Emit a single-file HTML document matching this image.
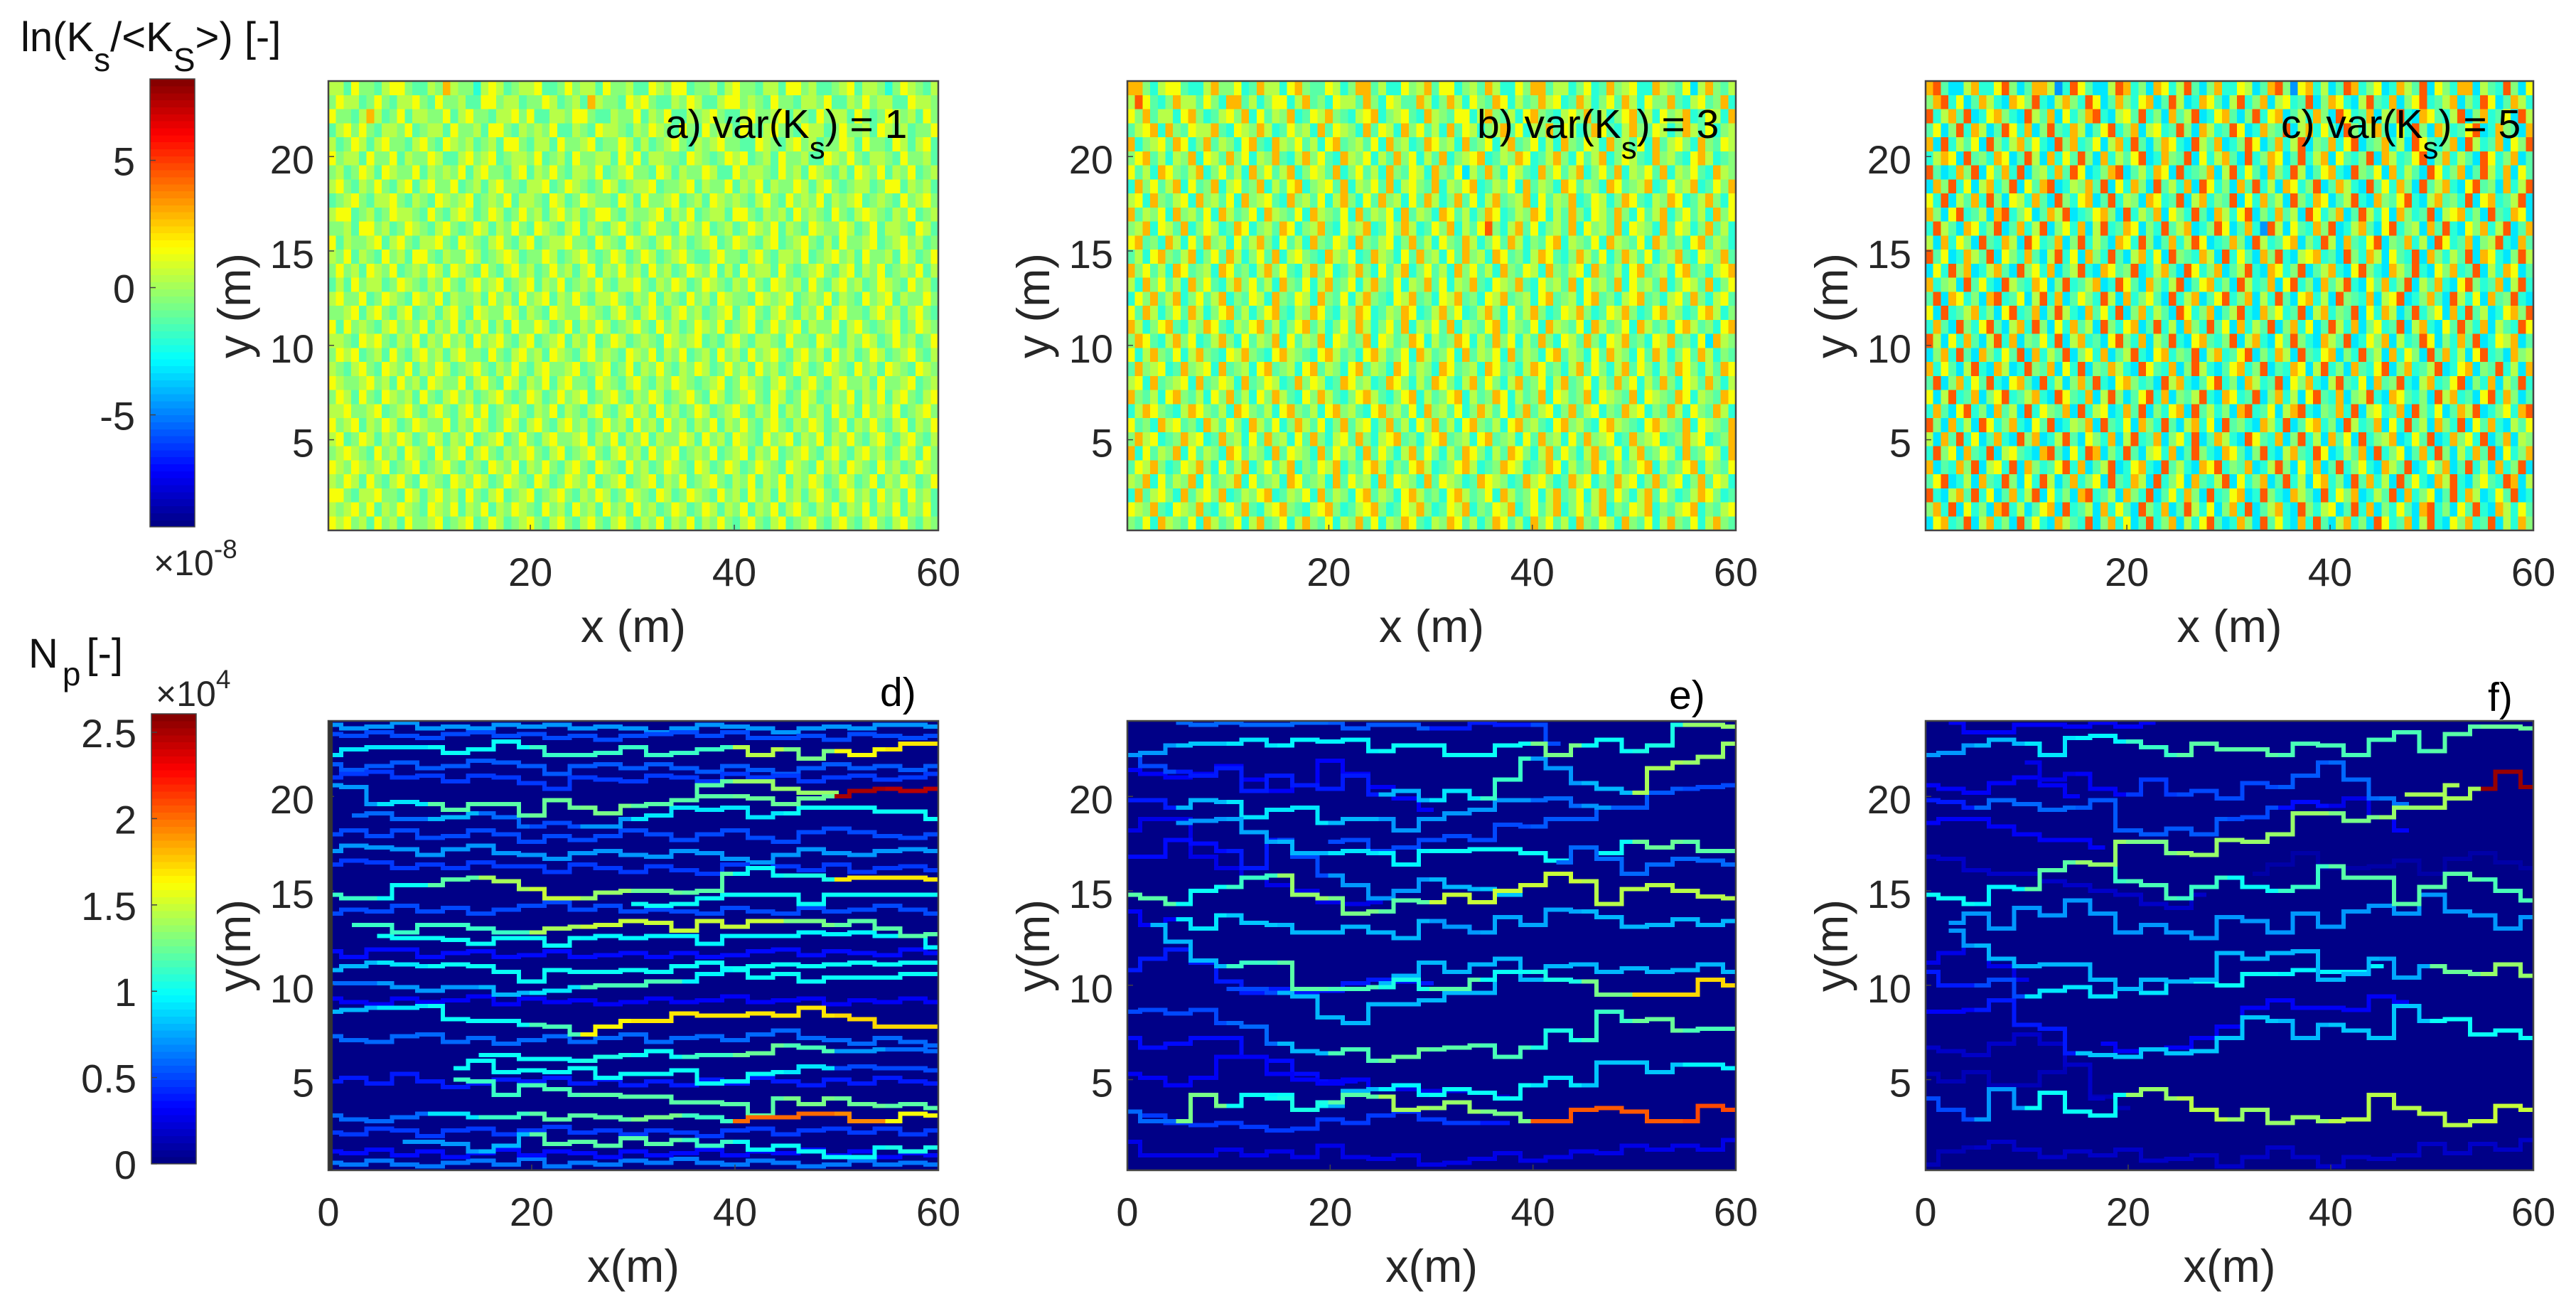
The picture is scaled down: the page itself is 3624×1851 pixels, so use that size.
<!DOCTYPE html>
<html lang="en"><head><meta charset="utf-8"><title>Ks fields and particle paths</title>
<style>html,body{margin:0;padding:0;background:#fff}svg{display:block}text{font-family:"Liberation Sans",Arial,sans-serif}</style></head>
<body>
<svg id="chart" xmlns="http://www.w3.org/2000/svg" width="3624" height="1851" viewBox="0 0 3624 1851">
<rect width="3624" height="1851" fill="#fff"/>
<g id="heat"></g>
<g id="axes"></g>
<text x="29" y="72" font-size="58" fill="#111">ln(K<tspan dy="28" font-size="46">s</tspan><tspan dy="-28">/&lt;K</tspan><tspan dy="28" font-size="46">S</tspan><tspan dy="-28">&gt;) [-]</tspan></text>
<text x="40" y="939" font-size="58" fill="#111">N<tspan dy="25" dx="6" font-size="46">p</tspan><tspan dy="-25" dx="8">[-]</tspan></text>
<text x="216" y="809" font-size="50" fill="#262626">×10<tspan dy="-24" font-size="37">-8</tspan></text>
<text x="219" y="993" font-size="50" fill="#262626">×10<tspan dy="-25" font-size="37">4</tspan></text>
<text x="936" y="194" font-size="57" fill="#000">a) var(K<tspan dy="29" font-size="44">s</tspan><tspan dy="-29">) = 1</tspan></text>
<text x="2078" y="194" font-size="57" fill="#000">b) var(K<tspan dy="29" font-size="44">s</tspan><tspan dy="-29">) = 3</tspan></text>
<text x="3209" y="194" font-size="57" fill="#000">c) var(K<tspan dy="29" font-size="44">s</tspan><tspan dy="-29">) = 5</tspan></text>
<text x="1238" y="993" font-size="57" fill="#000">d)</text>
<text x="2348" y="997" font-size="57" fill="#000">e)</text>
<text x="3500" y="1000" font-size="57" fill="#000">f)</text>
</svg>
<script>
const _ = null;
const xTicksTop = [20, 40, 60];
const xTicksBottom = [0, 20, 40, 60];
const yTicks = [5, 10, 15, 20];
const ksColorTicks = [-5, 0, 5];
const npColorTicks = [0, 0.5, 1, 1.5, 2, 2.5];
const ksRange = [-9.4, 8.2];
const npRange = [0, 2.607];
const levelValues = [-6.5, -4.5, -3.2, -2.2, -1.4, -0.4, 0.5, 1.5, 2.8, 4.4];
const pathXSamples = [0,2.5,5,7.5,10,12.5,15,17.5,20,22.5,25,27.5,30,32.5,35,37.5,40,42.5,45,47.5,50,52.5,55,57.5,60];

const fieldA = [
[6,6,4,7,5,5,4,6,7,7,5,4,4,6,5,8,6,5,5,3,6,7,6,4,5,6,6,7,4,4,5,7,5,6,6,4,7,5,5,6,4,4,7,6,5,7,7,4,5,5,6,4,6,7,5,5,4,6,6,4,7,7,5,6,4,4,5,6,7,4,6,6,5,3,5,7,6,5,4,6],
[5,7,6,6,4,5,7,5,4,6,6,7,5,4,7,5,5,6,4,4,7,7,5,6,6,4,5,5,7,6,4,5,6,4,8,6,5,5,4,7,6,7,5,4,4,6,5,7,6,4,4,6,7,7,5,6,5,4,7,5,5,4,6,6,5,7,4,4,6,5,7,5,6,6,4,4,7,6,6,5],
[7,5,5,4,6,8,6,4,5,7,4,6,6,5,5,7,4,6,7,5,5,4,6,6,7,5,7,4,4,6,6,5,7,7,5,4,4,6,5,5,7,4,6,5,7,4,4,6,5,6,7,5,4,4,6,7,5,5,6,7,4,6,5,4,7,5,6,6,4,7,5,4,5,7,6,5,6,4,7,5],
[4,6,7,5,7,5,4,6,6,5,7,4,5,6,6,4,7,5,5,6,4,7,7,5,4,6,5,6,5,7,4,4,6,5,4,7,6,6,5,4,6,5,7,6,5,4,7,5,4,7,5,6,6,4,7,5,4,6,7,5,5,4,7,6,6,4,5,7,5,5,6,4,7,6,5,6,4,5,5,7],
[6,4,5,7,6,4,6,7,5,5,4,6,7,5,4,7,6,5,6,4,5,6,4,7,7,5,4,6,6,4,7,5,5,6,7,4,5,5,7,6,4,6,4,5,6,7,5,4,6,5,6,7,5,5,4,4,7,6,5,4,6,7,5,6,4,5,5,7,6,4,7,5,5,4,7,6,4,6,7,4],
[7,5,6,6,4,7,5,5,7,4,6,5,5,7,6,4,4,6,7,5,6,7,4,5,6,6,5,7,4,5,6,4,7,5,5,6,6,4,7,5,7,4,6,6,5,5,4,7,6,5,4,5,7,6,7,4,5,6,4,7,5,5,6,4,4,7,6,5,7,5,4,6,6,5,4,7,5,5,6,4],
[5,6,4,5,7,6,4,7,6,5,5,7,4,6,5,6,5,7,4,6,7,5,5,4,6,7,4,6,5,7,5,4,6,6,5,7,4,5,6,7,5,5,4,7,6,4,6,5,5,7,6,4,4,7,5,6,6,5,4,7,5,6,4,7,6,5,4,6,4,7,6,5,7,4,6,5,7,4,5,6],
[6,7,5,4,6,5,7,5,4,6,7,4,6,7,5,5,7,4,5,6,4,6,7,5,5,4,6,6,7,4,5,7,6,5,4,5,7,6,4,5,6,6,7,4,5,5,6,7,4,6,5,5,7,4,6,5,7,4,6,5,5,7,6,4,6,7,5,4,5,6,6,4,5,7,7,4,6,5,6,4],
[4,5,6,7,5,4,6,6,7,5,4,6,5,4,7,6,5,6,7,4,5,6,5,7,4,6,6,5,4,7,6,4,5,7,6,5,5,4,7,6,4,7,5,5,6,7,4,5,6,4,7,6,5,6,5,4,6,7,5,4,7,5,6,5,7,4,6,5,6,7,4,5,6,5,4,7,5,6,7,5],
[6,7,7,4,5,6,4,5,7,6,6,5,4,7,5,4,6,7,6,4,5,7,6,4,5,7,5,6,4,6,7,5,6,4,5,7,7,5,4,6,5,5,6,7,4,6,5,7,4,5,6,6,4,7,7,5,4,6,5,6,4,7,5,6,5,4,7,5,4,6,7,6,5,4,6,5,7,4,5,6],
[5,5,6,4,7,7,5,6,4,5,7,6,5,4,6,7,5,4,5,7,6,4,6,5,7,5,4,7,6,5,4,6,7,4,6,5,4,6,7,5,4,6,7,5,5,4,7,6,5,7,4,5,6,4,5,7,6,5,7,4,6,5,4,7,6,5,5,7,6,4,5,7,4,6,6,5,4,7,6,4],
[7,4,6,5,5,6,7,4,6,7,5,4,6,6,7,5,4,7,6,5,4,6,7,5,4,6,7,4,5,6,6,7,5,5,4,7,6,5,4,7,6,5,4,6,7,5,6,4,5,6,7,4,5,7,6,5,4,6,7,4,5,6,7,5,4,6,4,7,5,5,6,7,4,5,6,7,5,6,4,5],
[6,5,7,4,6,5,4,7,5,6,4,7,7,5,4,6,5,5,7,6,4,5,6,7,6,4,5,5,7,6,4,5,6,7,5,4,5,7,6,4,5,7,6,4,5,6,7,5,4,4,6,7,5,5,4,6,7,5,4,6,6,5,7,4,5,6,7,5,6,4,7,5,5,6,4,7,6,4,5,7],
[5,7,5,6,4,7,6,5,7,4,5,6,5,7,6,4,7,6,5,4,7,5,4,6,7,5,6,4,5,7,5,6,4,6,7,4,6,5,7,5,6,4,7,5,6,4,5,7,6,5,7,4,6,4,7,5,6,6,4,7,5,4,5,6,7,5,4,6,7,4,6,5,7,4,5,6,5,7,4,6],
[4,6,4,7,5,6,6,4,5,7,6,5,4,6,5,7,5,4,6,7,5,6,7,4,5,6,7,4,6,5,7,4,5,6,5,7,5,4,6,6,7,5,4,6,5,7,6,4,5,7,6,5,4,6,5,7,5,4,7,6,5,6,4,7,5,4,6,7,5,6,4,5,7,6,5,4,7,5,6,4],
[6,7,5,5,7,4,5,7,6,5,4,7,6,5,7,4,6,5,5,6,4,7,5,6,4,7,5,6,7,4,6,5,7,5,4,6,6,7,5,4,6,5,7,4,6,5,4,7,5,6,4,7,6,5,5,4,7,6,5,6,7,4,5,6,5,7,4,6,5,4,7,5,6,7,4,6,5,5,7,5],
[5,5,6,7,4,6,7,5,4,6,7,4,5,6,4,6,7,5,4,7,6,5,5,7,6,4,6,5,4,7,6,5,5,7,6,5,4,6,7,5,4,6,7,5,4,6,7,5,6,4,5,6,7,4,6,7,5,4,6,7,5,4,6,5,7,4,6,7,5,5,4,6,7,5,6,4,6,7,5,4],
[7,4,7,5,6,5,4,6,7,5,6,5,7,4,6,5,7,4,6,5,7,4,6,4,7,5,5,7,6,4,5,7,4,6,5,7,6,4,5,6,7,5,4,7,5,6,4,5,7,6,5,7,4,5,6,7,4,5,7,5,6,7,4,6,5,5,7,4,6,7,5,4,5,6,7,4,5,7,6,5],
[6,6,5,4,7,6,7,5,4,6,5,7,4,6,5,7,5,6,4,7,5,6,7,5,4,6,7,4,5,6,7,4,6,5,7,4,5,7,6,4,5,6,5,4,7,6,5,6,7,4,5,4,6,7,5,4,6,6,5,4,7,5,5,4,7,6,5,4,6,5,7,6,4,5,7,5,6,4,5,7],
[5,7,6,7,4,5,6,4,7,5,4,6,7,5,6,4,6,7,5,5,4,7,5,4,6,7,5,6,4,7,6,5,4,6,7,5,6,5,4,7,6,5,7,4,6,5,7,4,5,6,4,7,5,6,4,7,5,6,7,5,4,6,7,5,6,4,7,5,6,4,5,7,6,4,5,6,7,5,4,6],
[6,5,4,6,7,5,4,7,6,5,7,4,6,5,7,6,4,5,6,7,5,4,6,5,7,5,4,6,7,5,5,6,7,4,5,6,7,4,5,7,4,6,5,7,5,4,6,5,7,6,4,5,7,5,6,4,7,5,6,4,5,7,6,4,5,7,6,5,4,7,5,6,4,7,6,5,4,7,6,5],
[7,6,5,5,6,7,5,6,4,7,5,6,4,7,6,5,5,7,4,6,7,5,4,7,6,4,6,5,7,4,6,7,5,5,4,7,6,5,4,6,7,5,4,6,5,7,6,5,4,5,6,7,4,5,7,6,5,4,6,7,5,4,6,7,5,4,6,7,5,5,6,4,7,5,5,6,7,4,5,6],
[5,7,6,4,7,5,4,7,6,5,6,4,7,5,4,6,7,5,6,4,5,6,7,5,4,5,7,6,4,5,7,5,6,7,4,5,6,7,5,4,6,5,7,6,4,5,6,7,5,4,7,6,4,5,6,7,5,4,7,6,4,5,7,6,4,5,6,5,7,4,6,5,7,4,6,7,5,4,6,7],
[6,6,7,5,5,6,7,4,5,6,7,5,4,6,7,5,4,6,7,5,7,4,5,6,7,5,4,6,5,7,4,6,5,4,6,7,5,4,6,7,5,6,4,7,5,6,4,5,7,6,4,5,6,7,5,4,6,5,7,4,6,5,7,5,6,4,7,5,6,4,7,5,6,5,7,4,5,6,7,5],
[7,5,6,7,4,6,5,7,6,4,5,7,6,5,5,7,4,6,5,7,6,4,5,7,6,4,6,7,5,4,6,7,5,6,4,5,7,5,6,4,7,5,6,4,7,5,6,4,6,5,7,4,6,5,7,5,4,6,7,5,4,6,5,7,6,4,5,7,4,6,5,7,5,4,6,7,4,6,5,7],
[6,7,4,5,7,6,4,6,5,7,6,4,5,7,6,4,6,5,7,4,5,6,7,4,5,7,5,4,6,7,5,5,6,7,4,6,5,7,4,6,5,7,4,6,5,5,7,6,4,7,5,6,4,7,6,5,4,7,5,6,7,4,6,5,7,4,6,5,7,5,4,6,7,5,4,6,7,5,4,6],
[5,6,7,6,5,4,7,5,6,4,7,6,5,4,7,5,6,7,4,6,7,5,4,6,5,6,7,5,4,6,7,4,5,6,7,5,4,6,7,5,6,4,7,5,6,7,4,5,6,5,7,4,5,6,7,4,6,5,7,4,5,6,7,5,4,6,7,5,4,6,7,5,6,4,5,7,6,4,7,5],
[7,6,5,7,6,5,6,7,4,5,6,7,4,5,6,7,5,4,6,5,4,7,6,5,7,4,6,5,7,5,4,6,7,5,4,7,6,5,4,7,5,6,4,5,7,6,5,4,7,6,4,5,7,6,4,5,7,6,5,4,7,6,5,4,7,5,6,4,7,6,5,4,7,5,6,4,5,7,6,5],
[6,5,7,6,4,7,5,4,6,7,5,4,7,6,5,4,7,6,5,7,6,4,5,7,6,5,4,7,6,4,5,7,6,5,7,4,5,6,7,4,5,6,7,4,6,5,7,4,5,6,7,5,4,6,5,7,4,6,5,7,4,6,5,7,6,4,5,7,6,4,5,7,4,6,5,7,6,4,5,7],
[7,7,5,4,6,6,7,5,5,4,7,6,4,6,7,5,6,4,7,5,4,6,7,4,5,6,7,4,5,6,7,5,4,6,5,7,6,4,5,7,6,5,4,7,6,4,5,7,6,5,4,7,5,6,4,7,5,6,4,7,5,6,4,6,7,5,4,6,7,5,6,4,7,5,6,4,7,5,6,4],
[6,5,6,7,5,7,4,6,5,7,6,5,4,7,6,5,7,4,6,5,7,4,6,5,7,6,5,4,7,5,6,4,7,5,6,4,7,5,6,4,7,5,6,4,5,7,6,4,5,7,6,4,6,5,7,4,6,5,7,4,6,7,5,4,6,5,7,4,6,5,7,4,6,5,7,4,6,5,7,4],
[7,6,7,5,6,4,7,5,6,4,7,5,5,6,7,4,5,6,7,4,5,7,6,4,5,6,7,5,4,6,7,5,4,6,7,5,4,6,7,5,4,6,5,7,4,6,5,7,4,6,5,7,5,4,6,7,5,4,6,7,4,5,6,7,5,4,6,7,5,4,6,7,5,4,6,7,5,4,6,5],
];
const fieldB = [
[8,8,5,3,6,7,7,4,3,3,6,8,5,5,7,3,4,8,6,6,3,7,8,5,4,4,7,6,3,5,8,8,4,6,3,3,7,5,6,8,4,7,7,3,5,6,4,8,6,3,3,7,5,8,8,4,6,6,3,5,7,3,4,8,5,6,7,3,3,8,6,5,4,7,2,6,8,5,4,6],
[6,9,7,4,3,5,8,6,6,4,7,5,3,8,8,4,6,3,5,7,7,3,6,8,4,5,3,7,6,6,4,8,5,3,7,6,4,4,8,6,3,5,8,6,3,7,5,4,8,7,3,6,4,5,8,6,7,3,4,8,6,3,5,7,4,8,6,3,7,5,5,8,4,3,6,7,4,5,8,3],
[7,5,8,4,6,6,3,7,8,5,3,4,6,7,5,8,3,7,4,6,5,8,3,4,7,6,8,5,4,3,6,7,8,3,5,6,7,4,3,8,6,5,4,7,7,3,6,8,5,4,6,3,7,8,5,4,3,6,7,5,8,4,6,3,5,7,8,4,6,3,7,5,6,8,3,4,7,6,3,8],
[4,6,7,8,3,8,5,4,7,6,6,8,4,3,7,6,5,8,6,3,4,7,5,6,3,8,4,7,6,5,3,8,4,7,6,3,8,5,7,4,6,3,8,4,7,6,3,5,6,8,4,7,3,6,5,8,4,7,6,3,5,8,7,4,3,6,8,5,4,7,6,3,5,8,6,4,7,3,5,6],
[8,3,5,6,7,4,8,7,3,5,8,4,6,5,3,7,8,4,3,8,6,5,7,4,6,3,7,8,4,5,6,4,7,3,8,5,6,3,4,8,7,5,6,3,8,4,5,7,3,6,8,4,5,7,3,6,3,8,5,4,7,6,3,8,5,6,4,7,3,8,4,6,7,5,3,8,5,4,7,6],
[5,7,8,4,6,3,6,5,8,3,7,6,4,8,5,7,3,6,5,8,4,3,6,8,5,7,4,3,8,6,5,7,3,6,4,8,5,7,3,6,4,8,3,5,6,7,8,3,4,6,5,8,7,3,4,6,8,5,3,7,4,6,8,3,5,7,6,4,3,8,5,6,4,3,7,8,6,3,4,5],
[7,4,6,3,8,7,5,4,6,8,3,5,7,4,6,3,8,5,7,4,6,8,3,5,7,6,4,8,3,5,7,4,6,3,8,5,4,7,6,3,8,5,4,7,2,6,4,8,5,3,7,6,4,3,8,5,7,4,6,8,3,5,7,4,8,3,6,5,7,4,8,3,6,5,7,4,3,8,6,5],
[3,8,5,7,4,6,8,3,7,4,5,8,3,6,7,4,5,8,3,6,4,7,8,3,5,6,7,4,8,3,6,5,7,4,8,3,6,7,5,4,8,3,6,5,7,8,3,4,6,5,7,3,8,4,6,5,3,8,7,4,6,5,3,8,7,4,5,6,8,3,4,7,5,6,8,3,4,7,5,8],
[6,7,3,8,5,4,6,7,3,8,5,6,4,7,3,8,5,6,7,4,3,8,5,6,4,7,3,6,8,5,3,7,4,8,5,6,3,7,4,8,6,3,5,8,4,7,3,6,8,4,5,6,8,3,7,4,6,5,8,3,4,7,6,3,5,8,7,4,3,6,5,8,7,3,4,6,8,5,3,7],
[8,4,6,5,7,3,8,5,6,4,7,3,8,6,4,5,7,3,8,6,5,4,7,3,8,6,5,4,7,3,8,4,6,5,7,3,8,4,6,5,3,8,7,4,6,3,5,8,7,3,4,6,5,8,7,3,6,4,8,5,3,7,6,4,8,5,3,7,4,6,8,3,5,7,4,6,3,8,5,7],
[5,6,8,3,7,6,4,8,3,5,7,6,3,4,8,7,3,5,6,4,8,7,3,5,6,8,4,3,7,5,6,8,3,4,7,5,8,6,3,4,7,5,8,3,6,4,7,9,5,3,6,8,4,7,3,5,6,4,8,3,7,5,6,4,8,3,7,6,5,3,8,4,7,6,3,5,8,4,6,3],
[7,8,4,5,3,8,6,3,7,4,8,5,6,3,7,4,6,8,5,3,7,4,6,3,8,5,4,7,6,3,8,5,4,6,7,3,5,8,4,6,3,7,5,4,8,6,3,5,7,4,8,6,3,5,4,7,8,3,6,5,4,7,3,8,6,5,4,7,3,8,6,4,5,3,7,8,4,6,5,3],
[4,6,3,7,8,5,4,6,8,3,5,7,4,8,6,3,5,7,4,8,3,6,7,5,4,3,8,6,5,7,3,4,8,6,5,3,7,4,8,5,6,3,7,4,8,5,6,3,8,7,4,5,3,6,8,7,4,3,5,8,6,4,7,3,5,8,6,4,7,3,5,6,8,4,3,7,6,5,8,4],
[8,5,7,4,6,3,8,7,4,5,6,3,8,7,4,5,3,6,8,5,7,4,3,6,8,5,7,3,4,6,8,5,3,7,4,6,8,3,5,7,4,6,3,8,5,7,4,6,3,8,5,4,7,6,3,8,5,4,6,7,3,8,5,4,6,3,7,8,4,5,6,3,7,8,4,5,3,6,7,8],
[6,3,8,5,7,4,6,3,8,5,7,4,3,6,8,5,7,4,6,3,8,5,4,7,3,6,8,4,5,7,3,6,8,5,4,7,3,6,5,8,4,7,3,6,5,8,4,3,7,6,5,8,4,3,7,5,6,4,8,3,7,5,6,4,8,3,7,5,6,4,8,3,5,7,6,4,8,3,5,7],
[3,7,5,8,4,6,8,3,5,7,4,6,8,3,5,4,7,6,3,8,5,4,7,6,3,8,5,4,7,3,6,8,5,4,3,7,6,8,4,5,3,7,6,8,4,5,3,7,6,8,4,5,6,3,7,8,4,5,6,3,7,8,4,5,3,6,7,8,4,5,3,6,7,4,8,5,3,6,7,4],
[7,4,8,6,3,5,7,4,8,6,3,5,7,8,4,6,3,5,7,8,4,3,6,5,8,7,4,3,6,5,8,7,3,4,6,5,8,7,3,4,6,8,5,7,3,4,6,8,5,3,7,4,6,8,5,3,4,7,6,8,5,3,4,7,6,8,5,3,4,7,8,6,5,3,4,7,8,6,3,5],
[8,6,3,5,7,8,4,3,6,5,8,7,4,3,6,5,7,8,4,6,3,5,7,8,4,6,3,5,7,4,8,6,3,5,7,4,8,3,6,5,7,4,8,3,6,5,4,7,8,3,6,5,4,7,3,8,6,5,4,7,3,8,6,4,5,7,3,8,6,4,5,3,7,8,6,4,5,3,7,8],
[5,8,7,4,3,6,8,5,7,3,4,6,8,5,3,7,4,6,5,8,3,7,4,6,5,8,3,7,6,4,5,8,3,7,6,4,5,8,7,3,6,4,5,8,7,3,6,4,8,5,7,3,6,4,8,5,3,7,6,4,8,5,3,7,6,8,4,5,3,7,6,8,4,5,3,7,2,8,6,5],
[7,3,6,8,5,4,7,3,6,8,5,4,3,7,6,8,5,4,3,7,8,6,5,4,3,7,8,6,4,5,3,7,8,6,4,5,7,3,8,6,4,5,7,3,8,4,6,5,7,3,8,4,6,5,3,7,8,4,6,5,3,7,4,8,6,5,3,7,4,8,6,3,5,7,4,8,6,3,5,4],
[4,8,5,6,7,3,4,8,5,6,7,3,8,4,5,6,3,7,8,4,5,6,3,7,8,4,6,5,3,7,8,4,6,5,3,8,7,4,6,5,3,8,7,4,5,6,3,8,7,4,5,3,6,8,7,4,5,3,6,8,4,7,5,3,6,8,4,7,5,3,6,4,8,7,5,3,6,4,8,7],
[6,7,3,8,4,5,6,7,3,8,4,5,7,6,3,8,4,5,7,6,3,4,8,5,7,6,3,4,8,7,5,6,3,4,8,7,5,3,6,4,8,7,5,3,6,8,4,7,5,3,6,8,4,5,7,3,6,8,4,5,7,3,6,4,8,5,7,3,6,4,8,5,3,7,6,4,8,5,3,6],
[8,5,4,6,3,7,8,5,4,6,3,7,5,8,4,6,3,7,5,8,6,4,3,7,5,8,6,4,3,5,7,8,6,4,3,5,7,8,3,6,4,5,7,8,3,6,4,5,8,7,3,6,4,5,8,3,7,6,4,5,8,3,7,6,5,4,8,3,7,6,5,4,8,7,3,6,5,4,8,7],
[3,6,8,7,5,4,3,6,8,7,5,4,6,3,8,7,5,4,6,3,7,8,5,4,6,3,7,8,5,6,4,3,7,8,5,6,4,7,3,8,5,6,4,7,3,5,8,6,4,7,3,5,8,4,6,7,3,5,8,4,6,7,3,5,4,8,6,7,3,5,4,8,6,3,7,5,4,8,6,3],
[7,4,5,3,8,6,7,4,5,3,8,6,4,7,5,3,8,6,4,7,3,5,8,6,4,7,3,5,8,4,6,7,3,5,8,4,6,3,7,5,8,4,6,3,7,8,5,4,6,3,7,8,5,6,4,3,7,8,5,6,4,3,7,8,6,5,4,3,7,8,6,5,4,8,3,7,6,5,4,8],
[5,8,6,7,3,4,5,8,6,7,3,4,8,5,6,3,7,4,8,5,6,3,7,4,8,5,3,6,7,4,8,5,3,6,7,8,4,5,3,6,7,8,4,5,6,3,7,8,4,5,6,3,7,4,8,5,6,3,7,4,8,5,6,7,3,4,8,5,6,7,3,4,5,8,6,7,3,4,5,8],
[8,3,7,4,6,5,8,3,7,4,6,5,3,8,7,4,6,5,3,8,4,7,6,5,3,8,4,7,5,6,3,8,4,7,5,3,6,8,4,7,5,3,6,4,8,7,5,3,6,4,8,7,5,3,6,8,4,7,5,3,6,8,4,5,7,3,6,8,4,5,7,6,3,8,4,5,7,6,3,8],
[4,7,6,8,5,3,4,7,6,8,5,3,7,4,6,8,3,5,7,4,6,8,3,5,4,7,6,8,3,5,4,7,8,6,3,5,4,7,8,6,3,4,5,7,8,6,3,4,5,8,7,6,3,4,5,8,7,3,6,4,5,8,7,3,6,4,5,7,8,3,6,4,5,7,8,3,6,5,4,7],
[6,5,8,3,7,4,6,5,8,3,7,4,5,6,8,3,7,4,5,6,3,8,7,4,5,6,3,8,4,7,5,6,3,8,4,7,6,5,3,8,4,7,6,5,3,4,8,7,6,5,3,4,8,6,7,5,3,4,8,6,7,3,5,4,8,6,7,3,5,8,4,6,7,3,5,8,4,7,6,3],
[3,8,4,6,7,5,3,8,4,6,7,5,8,3,4,6,5,7,8,3,4,6,5,7,3,8,4,6,5,3,7,8,4,6,5,3,7,8,6,4,5,3,7,8,6,4,5,7,3,8,6,4,5,7,3,6,8,4,5,7,3,6,8,4,7,5,3,6,8,4,7,5,3,4,6,8,7,5,3,4],
[7,6,5,8,4,3,7,6,5,8,4,3,6,7,5,8,4,3,6,7,8,5,4,3,6,7,8,5,3,4,6,7,8,5,3,4,7,6,8,5,3,4,7,6,8,3,5,4,7,6,8,3,5,7,4,6,8,3,5,7,4,6,8,3,5,4,7,6,8,3,5,4,6,7,8,3,5,4,6,7],
[5,4,7,3,8,6,5,4,7,3,8,6,4,5,7,3,6,8,4,5,7,3,6,8,5,4,7,3,6,5,8,4,7,3,6,5,8,7,4,3,6,5,8,7,4,6,3,5,8,7,4,6,3,8,5,7,4,6,3,8,5,4,7,6,3,8,5,4,7,3,6,8,5,4,7,3,6,8,5,4],
];
const fieldC = [
[8,9,4,2,2,6,8,3,3,7,9,5,2,4,8,8,6,1,3,9,7,4,2,2,6,9,8,3,5,2,8,7,3,6,9,4,2,5,8,3,3,7,6,2,4,8,9,5,1,7,8,3,6,2,4,9,8,3,5,7,2,3,8,6,4,9,2,7,5,3,8,8,2,6,4,3,9,5,2,7],
[5,8,9,3,7,2,4,8,6,3,2,8,7,5,9,3,2,6,8,5,3,9,7,2,4,8,5,3,7,8,2,4,9,6,2,3,8,7,4,2,6,9,3,5,8,2,6,7,3,4,9,2,5,8,7,3,2,6,9,4,3,8,2,5,7,9,3,4,6,8,2,5,3,9,7,2,4,8,6,3],
[9,3,6,8,4,9,2,3,7,8,5,3,2,9,6,4,8,2,7,3,5,8,9,3,2,6,7,4,9,3,5,2,8,4,6,9,2,3,7,8,4,2,5,9,3,7,8,2,4,6,3,8,5,2,9,7,3,4,8,2,6,5,9,3,2,8,7,4,3,6,9,2,5,8,3,4,7,2,9,6],
[4,7,2,5,9,3,8,6,2,4,9,7,3,8,2,5,9,4,3,8,6,2,4,7,9,3,5,8,2,6,7,3,4,9,5,2,8,6,3,4,9,7,2,3,8,5,4,9,2,6,8,3,7,4,2,9,5,3,6,8,4,2,7,3,9,5,2,8,6,3,4,7,9,2,3,8,5,4,2,8],
[8,2,9,3,6,4,7,2,9,5,3,6,8,4,7,3,2,9,5,8,3,4,7,2,6,8,3,9,4,2,5,8,7,3,2,9,6,4,8,2,3,5,9,7,2,4,8,3,6,9,2,5,4,8,3,7,9,2,4,5,8,3,6,2,9,7,4,3,5,8,2,9,6,3,4,8,2,7,5,9],
[3,6,8,7,2,9,4,5,3,8,7,2,4,9,6,2,8,3,7,4,9,5,2,8,3,6,4,7,9,2,3,8,5,4,9,2,7,3,6,8,4,2,9,3,5,8,7,2,4,9,3,6,8,2,7,4,3,5,9,2,8,6,3,4,7,9,2,5,8,3,6,4,2,9,7,3,5,8,2,4],
[9,4,2,3,8,5,9,2,7,4,8,3,9,2,5,6,3,8,4,9,7,2,3,5,8,9,2,4,6,3,8,7,2,9,3,4,5,8,2,6,9,3,7,4,2,8,5,3,9,6,2,4,7,8,3,2,9,5,4,7,2,8,3,6,4,2,9,7,3,5,8,2,4,9,6,3,8,2,7,4],
[2,8,5,9,3,7,2,6,8,3,5,9,2,7,4,8,9,2,3,6,5,8,4,9,2,7,3,8,5,2,9,4,6,3,8,2,9,7,3,5,2,8,4,9,3,6,2,8,7,3,5,9,2,4,8,6,3,2,9,4,7,3,8,5,2,9,4,6,8,3,2,7,9,4,5,2,8,3,6,9],
[7,3,9,2,6,4,8,3,9,5,2,7,6,3,8,4,2,9,5,3,7,8,2,4,9,3,6,5,2,8,7,3,4,9,2,6,8,3,5,4,9,2,7,3,8,4,6,2,9,5,3,8,7,2,4,6,9,3,2,8,5,4,7,9,3,2,6,8,4,5,3,9,2,7,8,3,4,6,9,2],
[8,5,2,7,9,3,4,6,2,8,9,3,5,7,2,4,8,6,9,2,3,4,7,8,5,2,9,3,6,4,8,2,7,5,3,9,4,2,8,6,3,7,9,2,5,3,8,4,6,2,9,7,3,5,8,2,4,9,6,3,7,2,8,5,3,4,9,2,6,7,8,3,5,2,9,4,3,8,7,2],
[3,9,6,4,2,8,7,3,5,9,2,4,8,3,6,9,2,5,7,3,8,2,6,9,3,4,8,7,2,5,3,9,4,6,8,2,3,5,9,7,2,4,8,3,1,9,6,2,7,4,3,8,5,9,2,3,6,8,4,2,7,9,3,5,6,2,8,4,9,3,2,7,5,8,3,6,9,2,4,8],
[6,2,8,3,7,5,2,9,4,3,8,6,2,9,7,3,4,8,2,5,9,3,6,4,2,8,7,3,9,5,2,4,8,3,6,9,7,2,3,4,8,5,2,9,6,3,4,7,8,2,5,3,9,6,2,8,4,3,7,9,2,5,4,8,3,6,2,9,7,3,4,8,2,5,6,9,3,2,8,4],
[9,4,7,2,3,8,6,4,9,2,7,5,3,8,4,2,6,9,3,7,2,8,5,3,9,4,2,6,8,3,7,2,9,5,4,3,8,6,2,9,3,7,4,2,8,5,9,3,2,6,7,8,3,4,2,9,5,3,8,6,2,7,4,3,9,2,8,5,3,6,4,9,2,8,7,3,2,5,9,6],
[2,7,3,9,5,8,2,3,6,8,4,2,9,5,7,3,8,2,4,6,9,3,2,8,7,4,5,9,2,3,6,8,4,2,9,7,3,5,8,2,4,6,9,3,2,8,7,3,5,9,2,4,6,8,3,2,7,9,5,3,2,8,6,4,9,3,2,7,5,8,3,4,9,2,6,3,8,7,2,4],
[8,3,5,6,2,9,4,7,3,2,9,6,4,3,8,7,2,5,9,3,4,6,8,2,3,9,7,4,2,8,5,3,6,9,2,4,7,8,3,5,2,9,6,3,4,8,2,7,9,3,5,2,8,4,6,9,3,2,7,4,8,3,5,9,2,6,4,8,3,2,7,9,5,3,4,8,2,6,9,3],
[4,9,2,8,7,3,5,2,8,9,3,4,7,2,6,9,3,8,2,4,7,5,3,9,6,2,8,3,5,7,4,2,9,3,6,8,2,4,7,9,3,5,8,2,6,3,9,4,2,7,8,3,6,2,9,5,4,3,8,2,6,7,9,2,3,5,8,4,2,9,6,3,7,2,8,4,5,9,3,2],
[7,2,9,3,4,6,8,3,5,2,7,9,3,4,8,2,5,9,6,3,2,8,4,7,3,9,2,5,8,3,6,4,2,9,7,3,5,8,2,4,6,9,3,2,8,5,7,3,4,9,2,6,8,3,5,4,9,2,7,3,8,6,2,4,9,3,5,7,2,8,3,9,4,6,2,3,7,8,5,9],
[3,8,4,2,9,5,3,7,9,4,2,6,8,3,9,5,2,7,3,8,4,6,2,9,5,3,7,8,2,4,9,3,6,2,8,5,3,9,4,7,2,8,3,6,4,9,2,5,8,3,7,2,4,9,6,3,8,2,5,7,3,4,9,2,6,8,3,2,7,4,9,5,3,8,2,6,4,3,9,7],
[9,6,2,7,3,8,4,2,6,9,3,8,2,5,4,7,3,9,2,6,8,3,4,2,7,9,5,3,8,2,6,4,9,3,2,7,8,4,3,5,9,2,6,8,3,2,7,4,9,5,3,2,8,6,4,9,2,3,7,5,8,2,6,3,4,9,7,2,5,3,8,4,9,2,3,7,6,8,2,4],
[2,5,8,3,9,4,2,8,5,3,7,4,9,2,8,3,6,4,9,2,5,7,3,8,2,4,6,9,3,2,7,8,3,5,4,9,2,6,8,3,4,7,9,2,5,3,8,6,2,9,4,3,7,8,2,5,3,9,4,6,2,8,3,7,5,2,9,4,8,3,6,2,7,9,3,4,2,8,5,6],
[8,3,7,4,2,6,9,3,2,8,6,2,3,9,5,4,8,2,7,3,9,2,5,4,8,6,3,2,9,7,4,3,8,2,5,9,6,3,2,4,7,8,3,5,9,2,4,3,8,7,2,6,9,3,5,2,8,4,3,7,9,2,5,8,3,4,6,9,2,3,7,8,2,5,4,9,3,6,2,8],
[4,9,2,5,8,3,7,4,9,3,2,7,8,4,2,9,3,6,2,5,8,4,9,3,2,7,8,5,3,4,2,9,6,8,3,2,4,7,9,3,5,2,8,6,3,4,9,2,7,5,8,3,2,6,9,4,3,7,2,8,4,5,9,3,2,6,8,3,4,7,9,2,5,3,8,2,6,4,9,3],
[7,2,6,9,3,4,8,2,5,7,9,3,4,6,8,3,2,9,7,4,3,8,2,6,9,5,2,4,7,9,3,8,2,5,4,6,9,3,2,8,7,3,4,9,2,5,8,3,6,2,7,9,4,3,8,2,5,6,9,3,2,8,7,4,3,5,2,9,6,8,3,4,2,7,9,3,8,5,2,4],
[3,8,4,2,7,9,3,5,2,8,4,6,2,9,3,7,5,4,8,2,9,3,6,7,2,3,8,4,9,2,5,3,7,8,2,9,4,6,3,5,2,8,9,3,4,7,2,6,8,9,3,2,5,4,8,3,9,2,6,7,3,4,8,2,9,5,3,7,2,4,8,6,9,2,3,5,7,3,8,9],
[9,5,2,8,3,6,2,9,7,3,5,8,3,2,7,4,9,2,3,6,5,8,2,9,4,3,7,2,8,5,3,9,4,2,6,8,3,7,2,9,4,5,3,2,8,6,3,9,2,4,7,8,3,5,2,9,6,3,4,8,2,7,3,9,4,6,2,8,5,3,9,2,7,4,8,3,2,6,4,7],
[6,2,8,4,9,3,7,2,4,8,3,2,9,5,8,2,3,6,9,4,2,7,5,3,8,2,6,9,3,4,8,2,5,7,3,9,2,4,8,6,3,2,9,7,4,3,8,2,5,9,3,6,2,8,4,7,2,9,3,5,6,8,2,3,7,4,9,2,3,8,5,7,3,9,2,4,8,2,6,5],
[3,9,5,7,2,8,4,3,9,2,6,7,4,3,2,8,9,4,2,7,3,9,8,2,5,3,9,4,2,6,7,3,8,2,4,9,5,3,2,8,7,4,2,5,9,3,2,6,8,4,3,9,7,2,3,6,4,8,2,9,3,5,7,2,4,8,3,9,5,2,6,3,8,4,9,2,7,3,5,8],
[8,2,4,3,8,5,9,2,6,7,3,9,2,8,5,3,4,7,9,3,8,2,4,6,9,2,3,7,8,3,2,9,4,6,3,2,8,7,9,3,5,4,8,2,3,6,9,5,2,7,3,8,2,4,9,3,5,7,3,2,8,6,4,9,2,3,7,5,8,2,4,9,3,6,2,8,3,5,9,2],
[4,7,9,2,3,6,2,8,4,3,9,5,2,7,3,9,6,2,4,8,3,5,7,2,9,4,3,8,6,2,9,3,5,7,2,8,4,3,6,9,2,7,3,5,8,2,4,9,3,6,2,7,8,3,5,2,9,4,8,3,6,2,9,4,7,3,2,8,6,9,3,2,5,7,4,3,9,8,2,6],
[9,3,2,6,8,4,9,3,7,2,4,8,3,6,9,2,7,3,5,2,8,9,3,4,6,2,8,5,3,9,2,4,7,3,8,5,2,9,3,4,7,8,2,3,9,5,3,2,8,6,4,2,9,3,7,5,8,2,3,6,4,9,2,8,3,5,7,2,4,9,3,8,6,2,3,7,4,9,2,3],
[5,8,3,9,2,7,3,5,2,8,9,3,6,2,4,7,8,2,9,3,4,6,2,8,3,7,4,2,9,5,3,8,2,4,9,6,3,7,2,5,8,3,9,2,4,6,8,3,2,9,5,3,6,7,2,4,9,3,8,2,5,3,7,4,2,8,9,3,5,2,7,4,9,3,2,8,6,3,7,4],
[2,7,8,3,4,9,2,6,8,3,5,2,9,4,7,3,2,8,6,4,3,9,2,5,8,3,7,2,4,9,3,5,8,2,6,3,7,9,4,2,3,8,5,2,9,4,7,3,2,8,3,9,4,2,6,8,3,5,2,9,7,3,4,8,2,6,9,3,2,7,5,8,3,4,9,2,6,3,8,5],
];

const panelEY = [
[1.7,1.0,1.0,1.0,1.3,1.0,1.2,0.9,1.5,0.9,0.8,1.0,0.5,0.6,0.8,1.1,0.7,0.9,1.2,1.1,1.5,1.3,1.5,1.3,1.8],
[7.2,6.7,6.9,7.2,7.2,6.2,6.0,5.3,4.9,4.9],
[5.3,5.1,4.7,5.1,6.2,6.2,5.3,5.0,4.8,5.0,4.5,4.5,4.4,4.4,4.3,4.1],
[3.3,3.1,2.7,2.6,2.7,2.5,2.3,2.4,2.9,2.7,3.1,3.3,2.9,2.7,2.7,2.7],
[18.2,18.8,18.8,16.8,16.2,15.7,15.3,15.0,14.4,14.3,14.4],
[21.4,21.2,21.0,21.2,21.6,20.9,20.3,20.6,21.9,21.2,20.5,19.9,19.3],
[10.8,11.4,11.9,11.2,10.2,9.6,9.8,9.6,9.7,10.1,10.3,10.2,10.1],
[16.8,16.8,17.7,17.5,17.1,16.2,17.7,16.8,15.8,15.3,14.6,15.0,15.6,15.2,15.1,14.8,15.3],
[_,_,_,_,_,_,_,_,17.6,17.7,17.1,17.3,17.7,17.9,17.7,18.5,18.4,18.8,18.8,19.4,19.4,20.2,20.4,20.5,20.6],
[19.8,19.8,19.4,19.8,19.7,18.9,19.3,19.4,18.6,18.8,18.8,18.2,18.8,19.1,19.3,19.8,19.8,19.9,19.5,19.4],
[22.2,21.6,21.3,21.1,21.5,20.3,21.1,20.6,20.4,21.1,20.1,20.3,19.8,20.3,19.9,20.9,22.0,21.5,20.7,20.4,20.2,21.5,21.8,22.1,22.8],
[_,_,18.6,18.7,18.8,18.1,17.6,17.0,17.0,17.1,17.0,16.4,17.1,17.1,17.2,17.2,17.0,16.6,17.3,17.0,17.6,17.3,17.6,17.1,17.1],
[_,_,23.9,23.8,23.9,23.8,23.8,23.9,23.9,23.6,23.8,23.8,23.6,23.6,23.9,23.8,23.8,22.8],
[_,_,_,_,_,_,_,_,_,_,_,_,_,_,_,_,_,16.5,17.3,16.7,15.9,16.4,16.7,16.6,16.4],
[22.2,22.3,22.7,22.8,22.8,23.0,22.7,23.0,22.9,23.0,22.4,22.7,22.7,22.2,22.2,22.7,22.8,22.2,22.7,23.0,22.4,22.7,23.8,23.8,23.7],
[13.9,13.2,13.5,13.0,13.7,13.3,13.2,12.8,12.8,13.1,12.8,12.5,13.4,13.1,12.8,13.6,13.2,14.0,13.9,13.6,13.1,13.2,13.5,13.2,13.4],
[14.8,14.6,14.3,15.0,15.2,15.7,15.8,14.8,14.6,13.8,13.9,14.5,14.4,14.8,14.4,15.0,15.3,15.9,15.5,14.3,15.1,15.3,15.0,14.7,14.6],
[_,_,_,_,9.8,9.8,9.6,9.4,8.3,8.0,9.0,9.0,9.2,9.6,9.6,10.7],
[_,_,_,_,_,_,_,_,_,_,10.1,10.5,11.2,10.7,11.1,11.4,10.3,11.0,11.1,10.7,10.9,10.7,10.8,11.1,10.7],
[_,13.2,12.3,11.3,11.0,11.2,11.2,9.8,9.8,9.8,9.9,10.3,9.8,9.8,10.3,10.7,10.7,10.3,10.2,9.5,9.5,9.5,9.5,10.3,10.0],
[8.6,8.7,8.5,8.7,8.0,7.8,6.9,6.5,6.4,6.6,6.0,6.2,6.6,6.7,6.8,6.2,6.7,7.6,7.1,8.6,8.1,8.2,7.6,7.7,7.7],
[_,_,_,4.2,3.6,4.2,4.2,3.4,3.6,4.4,4.5,4.7,4.2,4.5,4.3,4.0,4.7,5.1,4.7,5.9,5.9,5.4,5.8,5.8,5.6],
[3.3,2.8,2.8,4.2,3.6,4.2,4.0,3.4,3.8,4.2,4.1,3.4,3.5,3.8,3.3,3.2,2.8,2.8,3.4,3.5,3.3,2.8,2.8,3.6,3.4],
];
const panelEN = [
[.25,.25,.25,.25,.25,.25,.25,.25,.25,.25,.25,.25,.25],
[.35,.35,.35,.35,.3],
[.3,.3,.3,.3,.3,.25,.25,.2],
[.45,.45,.45,.45,.45,.45,.45,.4],
[.25,.25,.25,.25,.25,.2],
[.3,.3,.3,.3,.3,.3,.3],
[.4,.4,.4,.4,.4,.4,.4],
[.35,.35,.4,.5,.7,.7,.8,.85,.85],
[.5,.5,.5,.5,.5,.5,.5,.5,.55,.55,.55,.5,.45],
[.4,.8,.9,.9,.8,.7,.7,.7,.6,.7],
[.5,.4,.4,.4,.4,.8,.9,1.1,.7,.8,1.4,1.35,1.5],
[.5,.7,.75,.8,.9,.95,1.0,1.0,1.0,1.0,1.25,1.2,1.2],
[.6,.6,.6,.6,.55,.55,.4,.4,.5],
[.6,.6,.6,.6,.6,.6,.6,.6,.6,.6,.6,.6,.6],
[.7,.85,.9,.95,.95,1.0,1.0,1.0,1.3,1.0,1.05,1.35,1.45],
[.3,.9,.85,.8,.8,.8,.7,.75,.75,.8,.8,.8,.8],
[1.2,1.0,1.1,1.35,1.3,1.2,1.5,1.5,1.5,1.45,1.45,1.45,1.45],
[.5,.5,.5,.8,.8,.8,.8,.8],
[.8,.8,.8,.8,.8,.8,.8,.8,.8,.8,.8,.8,.8],
[.8,.8,1.1,1.2,1.15,1.05,1.2,1.0,1.05,1.3,1.75,1.75,1.75],
[.5,.5,.6,.8,1.15,1.25,1.2,1.15,1.05,1.1,1.25,1.15,1.0],
[.5,.5,.95,1.0,.8,.95,1.0,1.0,.9,.85,.85,.95,.95],
[.6,1.3,1.0,1.05,1.2,1.4,1.35,1.3,2.05,2.05,2.05,2.1,1.1],
];

const panelDY = [
[23.8,23.6,23.7,23.9,23.6,23.7,23.6,23.8,23.7,23.8,23.6,23.7,23.6,23.4,23.6,23.8,23.7,23.6,23.4,23.6,23.7,23.6,23.8,23.8,23.7],
[23.3,23.2,23.4,23.2,23.1,23.3,23.4,23.2,23.3,23.1,23.2,23.0,23.2,23.3,23.4,23.2,23.4,23.1,23.1,23.2,23.0,23.3,23.2,23.1,23.2],
[21.7,21.4,21.6,21.8,21.5,21.6,21.9,21.8,21.6,21.2,21.6,21.7,21.5,21.7,21.5,21.3,21.6,21.4,21.2,21.5,21.7,21.5,21.6,21.4,21.6],
[21.0,21.2,21.3,21.0,21.1,20.8,21.1,21.0,20.7,20.4,21.0,20.9,20.8,21.1,21.0,20.8,21.2,21.0,21.1,20.8,21.0,21.1,20.9,21.0,21.2],
[18.0,18.2,17.9,18.2,17.8,17.9,18.2,18.0,17.6,17.9,17.7,17.9,18.2,18.0,17.7,18.0,18.2,17.8,17.6,18.1,18.3,18.1,17.9,17.8,18.0],
[17.1,17.4,17.3,17.2,16.9,17.2,17.4,17.0,16.9,16.7,17.0,17.1,16.9,16.8,17.1,17.0,16.7,16.5,16.9,17.2,17.0,16.9,17.1,17.2,17.1],
[16.4,16.6,16.5,16.2,16.4,16.2,16.5,16.3,16.3,16.0,16.4,16.2,16.0,16.3,16.1,15.9,16.4,16.2,16.3,16.1,16.4,16.0,16.2,16.3,16.1],
[13.8,14.0,13.9,14.2,13.9,14.1,13.8,14.0,14.2,14.4,14.0,14.2,13.9,14.0,13.9,13.8,14.1,13.9,13.8,14.1,13.9,14.0,14.2,14.0,13.8],
[11.8,11.5,11.9,11.9,11.5,11.7,11.8,11.5,11.6,11.8,11.5,11.6,11.7,11.5,11.7,11.5,11.6,11.8,11.9,11.6,11.8,11.7,11.6,11.9,11.7],
[9.3,9.1,9.0,9.3,9.1,9.2,9.4,9.0,9.3,9.1,9.2,9.0,9.1,9.3,9.1,9.2,9.4,9.1,9.2,9.3,9.0,9.2,9.1,9.3,9.1],
[7.3,7.1,7.0,7.3,7.4,7.0,7.2,6.9,7.1,7.3,7.0,7.2,7.4,7.0,7.2,7.3,7.1,7.4,7.6,7.2,7.1,6.9,7.2,7.0,6.8],
[4.9,5.1,4.8,5.3,4.9,4.6,4.8,5.0,4.9,5.1,4.8,5.0,4.7,4.9,4.7,5.0,4.8,5.1,4.9,4.7,5.0,4.8,5.1,4.9,4.8],
[2.2,2.1,2.4,2.3,2.0,2.3,2.4,2.1,2.3,2.5,2.2,2.3,2.1,2.3,2.2,2.0,2.3,2.4,2.1,2.3,2.4,2.2,2.4,2.1,2.3],
[0.6,0.5,0.7,0.5,0.4,0.6,0.7,0.5,0.8,0.4,0.6,0.5,0.7,0.6,0.8,0.6,0.5,0.7,0.6,0.4,0.5,0.7,0.5,0.6,0.5],
[1.2,1.1,1.3,1.0,1.2,0.9,1.1,1.3,1.0,1.2,1.1,0.9,1.2,1.0,1.1,1.3,1.0,1.2,1.1,1.3,1.0,1.2,0.9,1.1,1.0],
[_,19.0,19.1,18.8,18.8,18.9,19.1,18.9,18.4,18.6,18.4,18.4,18.8,19.0,19.4,19.3,19.4,18.9,19.1,19.4,19.4,19.4,19.2,19.2,18.8],
[_,_,12.6,12.5,12.5,12.4,12.2,12.5,12.5,12.1,12.5,12.6,12.5,12.6,12.6,12.2,12.6,12.6,12.6,12.8,12.7,12.8,12.6,12.6,12.0],
[_,_,_,_,_,_,6.3,6.3,6.1,6.1,6.0,6.2,6.3,6.5,6.2,6.3,6.3,6.4,6.8,6.7,6.5,6.5,6.6,6.6,6.5],
[_,_,_,_,_,5.6,6.0,5.4,5.5,5.4,5.6,5.1,5.3,5.3,5.5,4.8,4.9,5.3,5.4,5.7,5.6,5.7,5.6,5.6,5.5],
[10.8,11.0,11.2,11.1,11.0,11.1,11.0,10.7,10.2,10.8,10.7,10.7,10.8,10.7,11.0,11.2,10.9,11.0,11.1,11.0,11.1,11.2,11.1,11.2,11.2],
[10.1,10.1,10.1,9.9,9.7,9.9,9.9,9.5,9.6,9.7,9.9,10.0,10.0,10.2,10.2,10.6,10.8,10.4,10.6,10.2,10.4,10.4,10.4,10.6,10.6],
[_,_,_,_,_,_,_,_,_,_,_,_,14.3,14.2,14.3,14.6,14.8,14.8,14.8,14.3,14.8,14.8,14.8,14.8,14.8],
[_,_,_,_,_,_,_,_,_,_,_,_,_,_,19.8,20.6,20.8,20.8,20.4,20.2,20.2],
[_,13.2,13.2,12.8,13.2,13.2,13.0,12.8,12.8,13.0,13.1,13.2,13.4,13.3,12.9,13.4,13.1,13.4,13.4,13.4,13.2,13.4,13.0,12.6,12.7],
[_,_,_,_,_,5.0,4.9,4.2,4.7,4.5,4.2,4.2,4.1,4.1,3.8,3.8,3.7,3.1,4.0,3.7,4.0,3.7,3.6,3.7,3.5],
[_,_,_,1.7,1.7,1.6,1.2,1.5,2.1,1.6,1.7,1.5,1.9,1.6,1.8,1.5,1.7,1.3,1.5,1.2,0.9,0.9,1.4,1.2,1.4],
[22.2,22.5,22.6,22.6,22.6,22.3,22.5,22.9,22.6,22.2,22.2,22.3,22.6,22.2,22.3,22.5,22.6,22.2,22.5,22.0,22.4,22.2,22.5,22.8,22.8],
[14.8,14.6,14.6,15.3,15.3,15.6,15.7,15.5,15.1,14.6,14.6,14.9,15.0,15.0,14.9,15.0,15.9,16.2,15.8,15.8,15.6,15.7,15.7,15.7,15.6],
[8.6,8.7,8.8,8.8,8.9,8.2,8.1,8.1,7.9,7.8,7.4,7.8,8.1,8.1,8.5,8.4,8.4,8.5,8.4,8.8,8.4,8.2,7.8,7.8,7.8],
[3.1,2.9,2.8,3.0,3.2,3.2,3.0,3.0,3.2,2.9,3.1,3.0,2.9,3.0,3.1,3.0,2.8,3.0,3.0,3.2,3.2,2.8,2.8,3.2,3.1],
[20.6,20.5,19.6,19.7,19.6,19.3,19.6,19.6,19.0,19.8,19.4,19.1,19.5,19.6,19.8,20.0,20.0,19.9,19.6,19.9,20.0,20.3,20.4,20.3,20.4],
];
const panelDN = [
[.7,.7,.7,.7,.7,.7,.7,.7,.7,.7,.7,.7,.7],
[.5,.5,.5,.5,.5,.5,.5,.5,.5,.5,.5,.5,.5],
[.55,.55,.55,.55,.55,.55,.55,.55,.55,.55,.55,.55,.55],
[.45,.45,.45,.45,.45,.45,.45,.45,.45,.45,.45,.45,.45],
[.5,.5,.5,.5,.5,.5,.5,.5,.5,.5,.5,.5,.5],
[.7,.7,.7,.7,.7,.7,.7,.7,.7,.7,.7,.7,.7],
[.45,.45,.45,.45,.45,.45,.45,.45,.45,.45,.45,.45,.45],
[.5,.5,.5,.5,.5,.5,.5,.5,.5,.5,.5,.5,.5],
[.35,.35,.35,.35,.35,.35,.35,.35,.35,.35,.35,.35,.35],
[.3,.3,.3,.3,.3,.3,.3,.3,.3,.3,.3,.3,.3],
[.6,.6,.6,.6,.6,.6,.6,.6,.6,.6,.6,.6,.6],
[.4,.4,.4,.4,.4,.4,.4,.4,.4,.4,.4,.4,.4],
[.45,.45,.45,.45,.45,.45,.45,.45,.45,.45,.45,.45,.45],
[.65,.65,.65,.65,.65,.65,.65,.65,.65,.65,.65,.65,.65],
[.35,.35,.35,.35,.35,.35,.35,.35,.35,.35,.35,.35,.35],
[.6,.6,.8,.6,.5,.7,.9,.9,.9,1.0,1.0,1.0,1.0],
[1.0,1.0,1.0,1.0,1.0,.95,.95,.95,.95,.95,.95,.95,.95],
[.9,.9,.9,1.0,1.0,1.05,1.0,1.1,1.25,1.15,.7,.6,.6],
[.9,.9,1.0,1.0,1.0,1.0,1.0,1.0,1.0,.9,.5,.5,.5],
[.8,.9,1,1,1,1,1,1,1,1,1,1,1.1],
[.6,.7,.7,.8,.9,1.15,1.15,.95,1.0,1.0,1.0,1.0,1.0],
[1,1,1,1,1,1,1,1,1,1,1,1,1],
[1.2,1.2,1.2,1.2,1.2,1.2,1.2,1.2,1.35,1.35,1.4],
[1.1,1.1,1.1,1.1,1.4,1.5,1.5,1.5,1.5,1.3,1.2,1.2,1.25],
[1.1,1.1,1.1,1.1,1.15,1.2,1.2,1.2,1.2,1.3,1.25,1.2,1.2],
[.7,.7,.7,.8,1.2,1.2,1.2,1.1,1.0,1.0,1.0,1.05,1.05],
[.9,.9,1,1,1.1,1.1,1.1,1.1,1.45,1.3,1.6,1.7,1.7],
[1.1,1.0,1.2,1.4,1.5,1.35,1.25,1.2,1.0,1.05,1.7,1.7,1.1],
[.8,.9,1.0,1.0,1.15,1.65,1.7,1.7,1.7,1.7,1.75,1.75,1.8],
[.6,.6,.9,1.1,1.2,1.2,1.3,1.1,2.0,2.0,1.95,1.6,1.95],
[.7,.9,1.2,1.2,1.25,1.3,1.2,1.2,1.25,1.25,2.5,2.45,2.25],
];

const panelFY = [
[_,_,_,_,_,_,_,_,_,_,_,_,_,15.9,16.4,17.0,16.2,16.2,16.3,16.6,15.9,16.7,17.0,16.5,16.2],
[5.3,4.9,5.4,4.7,4.7,5.4,5.8,4.1,3.5],
[6.7,6.5,6.3,6.9,7.4,6.9,5.8,4.0],
[16.8,16.7,16.1,15.9,15.9,15.5,15.3,15.0,14.8,14.3,14.1,14.8],
[18.6,18.8,18.8,18.4,18.0,17.7,17.7,17.3],
[20.6,20.4,20.2,20.7,21.0,20.6,20.0],
[11.2,11.7,12.1,11.0,10.3],
[_,23.9,23.4,23.4,23.8,23.8,23.7,23.9,23.7,23.9],
[0.5,1.2,1.4,1.7,1.3,0.9,1.2,1.0,1.3,0.7,0.8,1.0,0.4,0.9,1.4,0.9,0.4,0.9,0.8,1.0,1.6,1.1,1.6,1.3,1.8],
[_,_,_,_,_,_,_,6.9,6.5,6.6,6.7,7.2,7.8,8.8,9.2,8.8,8.8,8.7,9.4,9.1],
[19.8,19.7,19.4,19.8,19.6,19.3,19.4,19.8,18.2,18.0,18.3,18.0,18.8,18.9,19.4,19.7,19.5,19.9,18.9,18.2],
[_,_,_,_,21.8,20.9,21.2,20.4,20.1,20.9,20.1,20.3,19.9,20.7,20.5,21.1,21.8,20.9,19.9,19.6],
[_,13.3,13.8,13.0,14.1,13.7,14.5,13.8,12.8,13.2,12.8,12.5,13.6,13.4,12.8,13.8,13.1,13.9,14.2,13.8,14.8,13.9,13.7,13.0,13.6],
[8.6,8.6,8.7,9.2,7.9,7.7,6.4,6.3,6.2,6.6,6.4,6.5,7.2,8.3,8.1,7.2,7.9,7.6,7.2,8.9,8.1,8.2,7.4,7.6,7.2],
[10.7,10.0,10.0,10.3,9.4,9.7,9.9,9.4,9.8,9.6,10.2,10.2,10.0,10.6,10.6,10.8,10.7,10.7,11.0],
[_,12.9,12.1,11.4,11.0,11.1,11.1,10.3,9.8,10.3,10.2,10.3,11.7,11.4,11.7,11.8,10.3,10.6,11.4,10.4,11.0,10.7,10.6,11.1,10.5],
[_,_,_,_,_,_,_,16.4,15.5,15.3,14.6,15.2,15.7,15.2,15.0,15.2,16.3,15.7,15.7,14.3,15.2,15.9,15.6,15.0,14.5],
[22.2,22.3,22.7,23.0,22.8,22.2,23.1,23.2,22.9,22.6,22.2,22.8,22.5,22.5,22.2,22.8,22.7,22.2,23.0,23.4,22.4,23.3,23.7,23.7,23.6],
[_,_,_,_,_,_,_,_,_,_,_,_,_,_,_,_,_,_,_,20.1,20.1,20.6],
[4.0,3.4,2.9,4.5,3.5,4.3,3.3,3.1,4.2,4.5,4.0,3.4,2.9,3.4,2.7,3.0,2.8,2.9,4.2,3.5,3.2,2.6,2.8,3.6,3.4],
[14.8,14.6,14.3,15.2,15.1,16.1,16.5,16.4,17.6,17.6,17.0,16.9,17.7,17.6,18.0,19.1,19.1,18.7,18.9,19.4,19.4,19.9,20.4,21.3,20.5],
];
const panelFN = [
[.12,.12,.12,.12,.12,.12,.12,.12,.12,.12,.12,.12,.12],
[.15,.15,.15,.15,.15],
[.2,.2,.2,.2],
[.2,.2,.2,.2,.2,.2],
[.3,.3,.3,.3],
[.3,.3,.3,.3],
[.25,.25,.25],
[.3,.3,.3,.3,.3],
[.15,.2,.2,.2,.2,.2,.2,.2,.2,.2,.2,.2,.2],
[.3,.3,.3,.3,.3,.3,.3,.3,.3,.3],
[.4,.6,.6,.55,.55,.55,.5,.35,.25,.3],
[.25,.25,.25,.3,.45,.5,.5,.55,.6,.65],
[.7,.7,.7,.7,.7,.7,.7,.7,.7,.7,.7,.7,.6],
[.3,.4,.4,.85,.85,.85,.85,.8,.85,.85,1.0,1.0,.95],
[.4,.5,.9,.9,.9,1.0,1.0,.95,.95,.95],
[.7,.8,.8,.8,.8,.8,.8,.8,.8,.75,1.25,1.35,1.6],
[1.1,1.1,1.1,1.1,1.15,1.1,1.0,1.1,1.2,1.2,1.2,1.15,1.2],
[.7,.8,.9,.95,1.1,1.2,1.2,1.15,1.15,1.15,1.2,1.25,1.25],
[1.4,1.4,1.4,1.4,1.4,1.4,1.4,1.4,1.4,1.4,1.4],
[.5,.7,1.0,1.0,1.35,1.45,1.35,1.35,1.45,1.45,1.45,1.5,1.4],
[1.0,.95,1.2,1.35,1.3,1.35,1.35,1.35,1.3,1.35,1.4,2.55,2.35],
];

const NS = 'http://www.w3.org/2000/svg';
const heatLayer = document.getElementById('heat');
const axesLayer = document.getElementById('axes');
function make(tag, attrs, parent) {
  const node = document.createElementNS(NS, tag);
  for (const key in attrs) node.setAttribute(key, attrs[key]);
  parent.appendChild(node);
  return node;
}
function clamp01(v) { return Math.max(0, Math.min(1, v)); }
function jet(t) {
  const q = (Math.floor(clamp01(t) * 63.999) + 0.5) / 64;
  const r = clamp01(Math.min(4 * q - 1.5, -4 * q + 4.5));
  const g = clamp01(Math.min(4 * q - 0.5, -4 * q + 3.5));
  const b = clamp01(Math.min(4 * q + 0.5, -4 * q + 2.5));
  return 'rgb(' + Math.round(r * 255) + ',' + Math.round(g * 255) + ',' + Math.round(b * 255) + ')';
}
function ksColor(v) { return jet((v - ksRange[0]) / (ksRange[1] - ksRange[0])); }
function npColor(v) { return jet((v - npRange[0]) / (npRange[1] - npRange[0])); }
function xScale(box, v) { return box.left + (v - box.xMin) / (60 - box.xMin) * box.width; }
function yScale(box, v) { return box.top + (24 - v) / (24 - box.yMin) * box.height; }

function drawAxes(box, xTicks, xTitle, yTitle, prefix, titleBaseline) {
  const frame = make('rect', {x: box.left, y: box.top, width: box.width, height: box.height, fill: 'none', stroke: '#444', 'stroke-width': 2.5}, axesLayer);
  
  
  xTicks.forEach(function (tick) {
    const px = xScale(box, tick);
    const mark = make('line', {x1: px, x2: px, y1: box.top + box.height, y2: box.top + box.height - 8, stroke: '#444', 'stroke-width': 1.5}, axesLayer);
    
    
    const label = make('text', {x: px, y: box.top + box.height + 78, 'text-anchor': 'middle', 'font-size': 56, fill: '#262626'}, axesLayer);
    
    
    label.textContent = tick;
  });
  yTicks.forEach(function (tick) {
    const py = yScale(box, tick);
    const mark = make('line', {x1: box.left, x2: box.left + 8, y1: py, y2: py, stroke: '#444', 'stroke-width': 1.5}, axesLayer);
    
    
    const label = make('text', {x: box.left - 20, y: py + 24, 'text-anchor': 'end', 'font-size': 56, fill: '#262626'}, axesLayer);
    
    
    label.textContent = tick;
  });
  const xLabel = make('text', {x: box.left + box.width / 2, y: titleBaseline, 'text-anchor': 'middle', 'font-size': 65, fill: '#262626'}, axesLayer);
  
  
  xLabel.textContent = xTitle;
  const ax = box.left - 110, ay = box.top + box.height / 2;
  const yLabel = make('text', {x: ax, y: ay, transform: 'rotate(-90 ' + ax + ' ' + ay + ')', 'text-anchor': 'middle', 'font-size': 65, fill: '#262626'}, axesLayer);
  
  
  yLabel.textContent = yTitle;
}

function drawField(box, field, prefix) {
  const rows = field.length;
  const cols = field[0].length;
  const cellW = box.width / cols;
  const cellH = box.height / rows;
  field.forEach(function (row, r) {
    row.forEach(function (level, c) {
      const cell = make('rect', {x: box.left + c * cellW, y: box.top + r * cellH, width: cellW + 0.6, height: cellH + 0.6, fill: ksColor(levelValues[level]), 'shape-rendering': 'crispEdges'}, heatLayer);
      
      
    });
  });
}

function drawPaths(box, ys, ns, prefix) {
  const base = make('rect', {x: box.left, y: box.top, width: box.width, height: box.height, fill: npColor(0)}, heatLayer);
  
  
  ys.forEach(function (series, p) {
    for (let i = 0; i < pathXSamples.length - 1; i++) {
      const y0 = series[i], y1 = series[i + 1];
      if (y0 == null || y1 == null) continue;
      const nRow = ns[p];
      const value = nRow[Math.min(Math.floor(i / 2), nRow.length - 1)];
      const x0 = xScale(box, pathXSamples[i]);
      const x1 = xScale(box, pathXSamples[i + 1]);
      const xm = (x0 + x1) / 2;
      const py0 = yScale(box, y0), py1 = yScale(box, y1);
      const seg = make('path', {d: 'M' + x0 + ' ' + py0 + 'H' + xm + 'V' + py1 + 'H' + x1, fill: 'none', stroke: npColor(value), 'stroke-width': 6, 'stroke-linecap': 'square', 'shape-rendering': 'crispEdges', 'clip-path': 'url(#' + prefix + '-clip)'}, heatLayer);
      
      
    }
  });
}

function addClip(box, prefix) {
  const clip = make('clipPath', {id: prefix + '-clip'}, heatLayer);
  make('rect', {x: box.left, y: box.top, width: box.width, height: box.height}, clip);
}

function drawColorbar(x, top, bottom, range, ticks, colorOf, prefix) {
  const width = 63;
  const scale = function (v) { return bottom - (v - range[0]) / (range[1] - range[0]) * (bottom - top); };
  for (let i = 0; i < 64; i++) {
    const v0 = range[0] + (range[1] - range[0]) * i / 64;
    const v1 = range[0] + (range[1] - range[0]) * (i + 1) / 64;
    const step = make('rect', {x: x, y: scale(v1), width: width, height: scale(v0) - scale(v1) + 0.6, fill: colorOf((v0 + v1) / 2), 'shape-rendering': 'crispEdges'}, axesLayer);
    
    
  }
  const frame = make('rect', {x: x, y: top, width: width, height: bottom - top, fill: 'none', stroke: '#444', 'stroke-width': 1.5}, axesLayer);
  
  
  ticks.forEach(function (tick) {
    const py = scale(tick);
    const mark = make('line', {x1: x, x2: x + 8, y1: py, y2: py, stroke: '#444', 'stroke-width': 1.5}, axesLayer);
    
    
    const label = make('text', {x: x - 21, y: py + 21, 'text-anchor': 'end', 'font-size': 56, fill: '#262626'}, axesLayer);
    
    
    label.textContent = tick;
  });
}

const topRow = [
  {left: 462, top: 114, width: 858, height: 632, xMin: 0.2, yMin: 0.2},
  {left: 1586, top: 114, width: 856, height: 632, xMin: 0.2, yMin: 0.2},
  {left: 2709, top: 114, width: 855, height: 632, xMin: 0.2, yMin: 0.2}
];
const bottomRow = [
  {left: 462, top: 1014, width: 858, height: 632, xMin: 0, yMin: 0.2},
  {left: 1586, top: 1014, width: 856, height: 632, xMin: 0, yMin: 0.2},
  {left: 2709, top: 1014, width: 855, height: 632, xMin: 0, yMin: 0.2}
];
[fieldA, fieldB, fieldC].forEach(function (field, i) {
  drawField(topRow[i], field, 'panel-' + 'abc'[i]);
  drawAxes(topRow[i], xTicksTop, 'x (m)', 'y (m)', 'panel-' + 'abc'[i], 903);
});
[[panelDY, panelDN], [panelEY, panelEN], [panelFY, panelFN]].forEach(function (pair, i) {
  addClip(bottomRow[i], 'panel-' + 'def'[i]);
  drawPaths(bottomRow[i], pair[0], pair[1], 'panel-' + 'def'[i]);
  drawAxes(bottomRow[i], xTicksBottom, 'x(m)', 'y(m)', 'panel-' + 'def'[i], 1803);
});
const leftEdge = make('rect', {x: 462, y: 1014, width: 6, height: 632, fill: '#333'}, axesLayer);


drawColorbar(211, 111, 741, ksRange, ksColorTicks, ksColor, 'ks');
drawColorbar(213, 1004, 1637, npRange, npColorTicks, npColor, 'np');
</script>
</body></html>
